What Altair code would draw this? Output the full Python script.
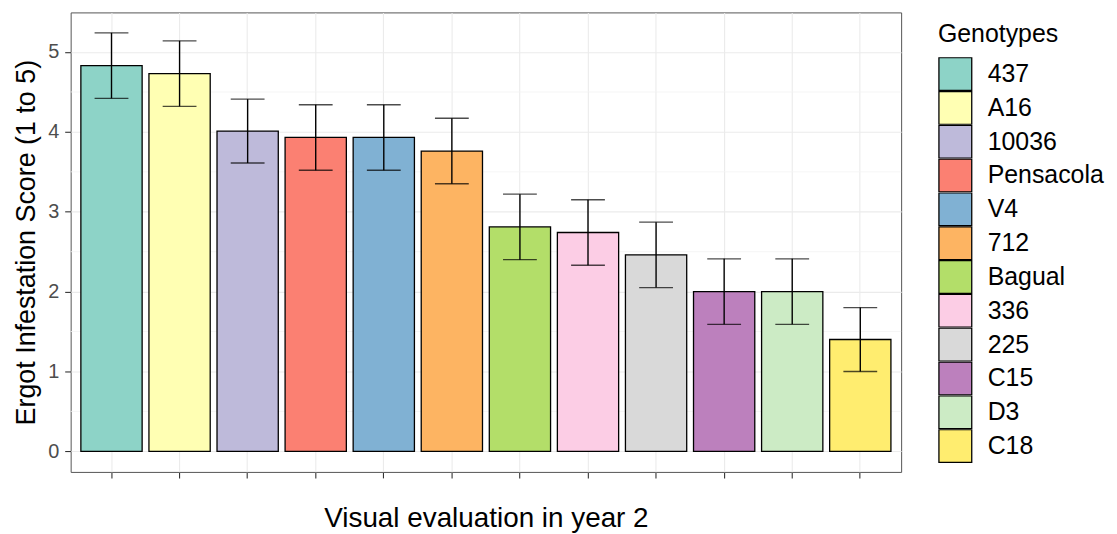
import altair as alt
import pandas as pd

genotypes = ["437", "A16", "10036", "Pensacola", "V4", "712", "Bagual",
             "336", "225", "C15", "D3", "C18"]
means = [4.83, 4.73, 4.01, 3.93, 3.93, 3.76, 2.81, 2.74, 2.46, 2.00, 2.00, 1.40]
errors = [0.41, 0.41, 0.40, 0.41, 0.41, 0.41, 0.41, 0.41, 0.41, 0.41, 0.41, 0.40]
colors = ["#8DD3C7", "#FFFFB3", "#BEBADA", "#FB8072", "#80B1D3", "#FDB462",
          "#B3DE69", "#FCCDE5", "#D9D9D9", "#BC80BD", "#CCEBC5", "#FFED6F"]
y_ticks = [0, 1, 2, 3, 4, 5]
y_minor = [0.5, 1.5, 2.5, 3.5, 4.5]

df = pd.DataFrame({
    "Genotypes": genotypes,
    "mean": means,
    "lo": [m - e for m, e in zip(means, errors)],
    "hi": [m + e for m, e in zip(means, errors)],
})
minor_df = pd.DataFrame({"v": y_minor})

FONT = "Liberation Sans"
Y_TITLE = "Ergot Infestation Score (1 to 5)"

x_enc = alt.X(
    "Genotypes:N",
    sort=genotypes,
    scale=alt.Scale(paddingInner=0.1, paddingOuter=0.15),
    axis=alt.Axis(
        title="Visual evaluation in year 2",
        labels=False,
        ticks=True,
        tickSize=6,
        tickColor="#333333",
        tickWidth=1.1,
        bandPosition=0.5,
        grid=True,
        gridColor="#EBEBEB",
        gridWidth=1.1,
        domain=False,
        titleFont=FONT,
        titleFontSize=28,
        titleFontWeight="normal",
        titleColor="#000000",
        titlePadding=26,
    ),
)

y_scale = alt.Scale(domain=[-0.258, 5.496], nice=False, zero=False)
y_axis = alt.Axis(
    title=Y_TITLE,
    values=y_ticks,
    format="d",
    tickSize=6,
    tickColor="#333333",
    tickWidth=1.1,
    labelFont=FONT,
    labelFontSize=20,
    labelColor="#4D4D4D",
    labelPadding=6,
    grid=True,
    gridColor="#EBEBEB",
    gridWidth=1.1,
    domain=False,
    titleFont=FONT,
    titleFontSize=27,
    titleFontWeight="normal",
    titleColor="#000000",
    titlePadding=7,
)

minor = alt.Chart(minor_df).mark_rule(color="#F3F3F3", strokeWidth=0.8).encode(
    y=alt.Y("v:Q", scale=y_scale, axis=y_axis)
)

bars = alt.Chart(df).mark_bar(stroke="black", strokeWidth=1.3).encode(
    x=x_enc,
    y=alt.Y("mean:Q", scale=y_scale, axis=y_axis),
    y2=alt.datum(0),
    color=alt.Color(
        "Genotypes:N",
        sort=genotypes,
        scale=alt.Scale(domain=genotypes, range=colors),
        legend=alt.Legend(
            title="Genotypes",
            orient="none",
            legendX=872,
            legendY=10,
            padding=0,
            symbolType="square",
            symbolSize=1089,
            symbolStrokeColor="black",
            symbolStrokeWidth=1.3,
            symbolOpacity=1,
            rowPadding=0,
            clipHeight=34,
            labelOffset=15,
            labelFont=FONT,
            labelFontSize=25,
            labelColor="#000000",
            titleFont=FONT,
            titleFontSize=25,
            titleFontWeight="normal",
            titleColor="#000000",
            titlePadding=10,
            labelLimit=300,
        ),
    ),
)

rules = alt.Chart(df).mark_rule(color="black", strokeWidth=1.4).encode(
    x=alt.X("Genotypes:N", sort=genotypes),
    y=alt.Y("lo:Q", scale=y_scale, axis=y_axis),
    y2="hi:Q",
)

caps_hi = alt.Chart(df).mark_tick(color="black", thickness=1.4, size=34).encode(
    x=alt.X("Genotypes:N", sort=genotypes),
    y=alt.Y("hi:Q", scale=y_scale, axis=y_axis),
)
caps_lo = alt.Chart(df).mark_tick(color="black", thickness=1.4, size=34).encode(
    x=alt.X("Genotypes:N", sort=genotypes),
    y=alt.Y("lo:Q", scale=y_scale, axis=y_axis),
)

chart = alt.layer(minor, bars, rules, caps_hi, caps_lo).properties(
    width=835,
    height=462,
    padding={"left": 4, "top": 3, "right": 5, "bottom": 5},
).configure_view(
    stroke="#555555",
    strokeWidth=1,
).configure_axis(
    labelFont=FONT,
    titleFont=FONT,
)

chart.save("out.html", embed_options={"renderer": "svg", "actions": False})
